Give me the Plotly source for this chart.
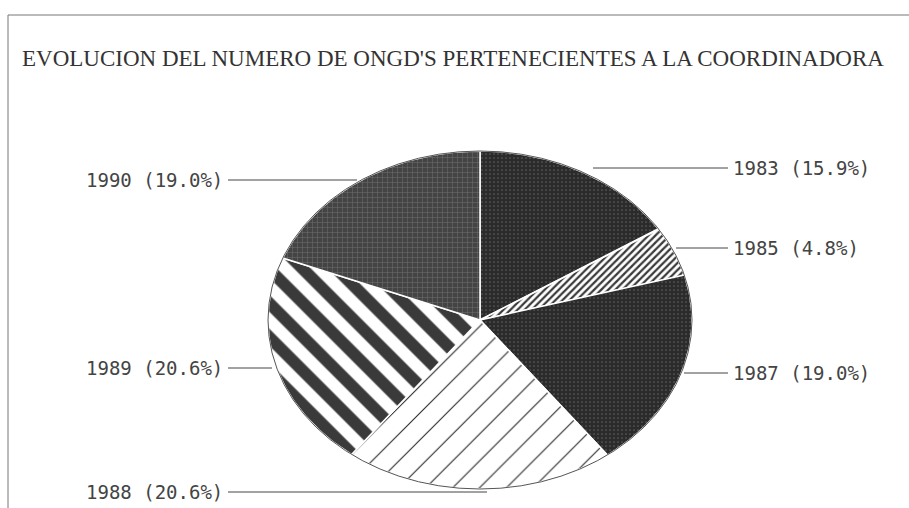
import numpy as np
import plotly.graph_objects as go

# data
years = ["1983", "1985", "1987", "1988", "1989", "1990"]
shares = [15.9, 4.8, 19.0, 20.6, 20.6, 19.0]
title_text = "EVOLUCION DEL NUMERO DE ONGD'S PERTENECIENTES A LA COORDINADORA"

W, H = 909, 508
CX, CY = 480, 320      # pie centre in pixels
RX, RY = 212, 169      # the pie is squashed into an ellipse


def px(x):
    return x / W


def py(y):
    return 1 - y / H


# one hatch style per slice, roughly like the old plotter output
styles = {
    "1983": dict(bg="#2b2b2b", fg="#5c5c5c", shape=".", size=4, solidity=0.15),
    "1985": dict(bg="#ffffff", fg="#3a3a3a", shape="/", size=5, solidity=0.45),
    "1987": dict(bg="#2b2b2b", fg="#5c5c5c", shape=".", size=4, solidity=0.15),
    "1988": dict(bg="#ffffff", fg="#2a2a2a", shape="/", size=19, solidity=0.06),
    "1989": dict(bg="#ffffff", fg="#3a3a3a", shape="\\", size=24, solidity=0.5),
    "1990": dict(bg="#444444", fg="#6e6e6e", shape="+", size=5, solidity=0.2),
}

fig = go.Figure()

# slices start at 12 o'clock and run clockwise
ends = np.cumsum(shares) / sum(shares)
starts = np.concatenate([[0], ends[:-1]])
for yr, a0, a1 in zip(years, starts, ends):
    t = np.linspace(a0, a1, 80) * 2 * np.pi
    xs = np.concatenate([[0], np.sin(t), [0]])
    ys = np.concatenate([[0], np.cos(t), [0]])
    s = styles[yr]
    fig.add_trace(go.Scatter(
        x=xs, y=ys, mode="lines", fill="toself",
        fillcolor=s["bg"],
        fillpattern=dict(shape=s["shape"], bgcolor=s["bg"], fgcolor=s["fg"],
                         fgopacity=1, size=s["size"], solidity=s["solidity"]),
        line=dict(color="#ffffff", width=1.5),
        hoverinfo="skip", showlegend=False,
    ))

# labels and leader lines (pixel positions from the picture)
right_labels = [("1983", 168, 593), ("1985", 248, 676), ("1987", 373, 684)]
left_labels = [("1990", 180, 357), ("1989", 368, 272), ("1988", 492, 487)]
pct = dict(zip(years, shares))

annotations = [dict(
    text=title_text, x=px(453), y=py(58), xref="paper", yref="paper",
    xanchor="center", yanchor="middle", showarrow=False,
    font=dict(family="Liberation Serif", size=23, color="#333333"),
)]
shapes = []
lab_font = dict(family="DejaVu Sans Mono", size=19, color="#444444")
for yr, yy, edge in right_labels:
    annotations.append(dict(text=f"{yr} ({pct[yr]:.1f}%)", x=px(731), y=py(yy),
                            xref="paper", yref="paper", xanchor="left", yanchor="middle",
                            showarrow=False, font=lab_font))
    shapes.append(dict(type="line", xref="paper", yref="paper", x0=px(edge), x1=px(728),
                       y0=py(yy), y1=py(yy), line=dict(color="#444444", width=1)))
for yr, yy, edge in left_labels:
    annotations.append(dict(text=f"{yr} ({pct[yr]:.1f}%)", x=px(225), y=py(yy),
                            xref="paper", yref="paper", xanchor="right", yanchor="middle",
                            showarrow=False, font=lab_font))
    shapes.append(dict(type="line", xref="paper", yref="paper", x0=px(228), x1=px(edge),
                       y0=py(yy), y1=py(yy), line=dict(color="#444444", width=1)))

# pie outline and page frame
shapes.append(dict(type="circle", xref="x", yref="y", x0=-1, x1=1, y0=-1, y1=1,
                   line=dict(color="#555555", width=1)))
shapes.append(dict(type="line", xref="paper", yref="paper", x0=px(8), x1=1,
                   y0=py(15), y1=py(15), line=dict(color="#777777", width=1)))
shapes.append(dict(type="line", xref="paper", yref="paper", x0=px(8), x1=px(8),
                   y0=py(15), y1=0, line=dict(color="#777777", width=1)))

fig.update_layout(
    width=W, height=H,
    margin=dict(l=0, r=0, t=0, b=0),
    paper_bgcolor="white", plot_bgcolor="white",
    xaxis=dict(range=[-CX / RX, (W - CX) / RX], visible=False, fixedrange=True),
    yaxis=dict(range=[-(H - CY) / RY, CY / RY], visible=False, fixedrange=True),
    annotations=annotations, shapes=shapes,
)

# drop the default 8px body margin so the figure fills the window
fig.write_html("out.html", config={"displayModeBar": False},
               post_script="document.body.style.margin='0';")
